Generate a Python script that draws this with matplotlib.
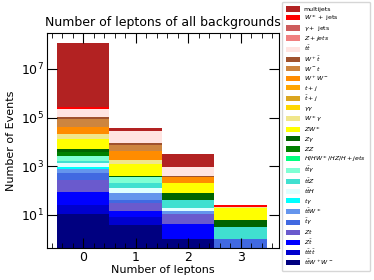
"""
Stacked histogram of the number of leptons for all backgrounds
"""

import numpy as np
import matplotlib
matplotlib.use("Agg")
import matplotlib.pyplot as plt
from matplotlib.ticker import NullLocator

# bin centres (number of leptons)
n_leptons = [0, 1, 2, 3]

# background names, in legend order (top of the stack first)
labels = [
    "multijets", r"$W^\pm +$ jets", r"$\gamma +$ jets", r"$Z + jets$",
    r"$t\bar{t}$", r"$W^+\bar{t}$", r"$W^-t$", r"$W^+W^-$",
    r"$t + j$", r"$\bar{t} + j$", r"$\gamma\gamma$", r"$W^\pm\gamma$",
    r"$ZW^\pm$", r"$Z\gamma$", r"$ZZ$", r"$H/HW^\pm/HZ/H + jets$",
    r"$t\bar{t}\gamma$", r"$t\bar{t}Z$", r"$t\bar{t}H$", r"$t\gamma$",
    r"$t\bar{t}W^\pm$", r"$\bar{t}\gamma$", r"$Zt$", r"$Z\bar{t}$",
    r"$t\bar{t}t\bar{t}$", r"$t\bar{t}W^+W^-$",
]

# events per background, same order as labels
events_0lep = [1.147e8, 3.3e4, 0, 0, 1.29e5, 1.8e4, 4.3e4, 2.1e4,
               0, 0, 0, 8200, 7700, 1150, 1320, 0,
               950, 360, 418, 157, 205, 269, 182, 64, 14, 10.7]
events_1lep = [8200, 0, 0, 0, 19300, 1300, 3110, 2540,
               0, 0, 0, 510, 876, 71, 0, 0,
               145, 75, 45, 0, 38, 11, 15.4, 6.2, 4.1, 4.0]
events_2lep = [2140, 0, 0, 0, 547, 36, 0, 161,
               0, 0, 0, 0, 132, 36, 0, 0,
               0, 22, 4.2, 0, 4.2, 0, 6.4, 3.06, 0, 1.0]
events_3lep = [0, 4.4, 0, 0, 0, 0, 0, 0,
               0, 0, 0, 1.9, 12.9, 2.95, 0, 0,
               0, 2.14, 0, 0, 0, 1.0, 0, 0, 0, 0]

# y tick positions
y_ticks = [1e1, 1e3, 1e5, 1e7]

colors = [
    "firebrick", "red", "indianred", "lightcoral", "mistyrose", "sienna",
    "peru", "darkorange", "orange", "goldenrod", "gold", "khaki", "yellow",
    "darkgreen", "green", "springgreen", "aquamarine", "turquoise",
    "lightcyan", "cyan", "cornflowerblue", "royalblue", "slateblue", "blue",
    "mediumblue", "navy",
]

counts = np.array([events_0lep, events_1lep, events_2lep, events_3lep]).T

fig = plt.figure(figsize=(3.74, 2.8), dpi=100)
ax = fig.add_axes([0.1257, 0.114, 0.62, 0.768])

# stack from the bottom of the list upwards
bottom = np.zeros(len(n_leptons))
handles = []
for i in range(len(labels) - 1, -1, -1):
    h = ax.bar(n_leptons, counts[i], width=1.0, bottom=bottom,
               color=colors[i], label=labels[i], linewidth=0)
    handles.append(h)
    bottom = bottom + counts[i]
handles = handles[::-1]

ax.set_yscale("log")
ax.set_ylim(0.43, 3e8)
ax.set_yticks(y_ticks)
ax.yaxis.set_minor_locator(NullLocator())
ax.set_xlim(-0.69, 3.73)
ax.set_xticks(n_leptons)
ax.set_xticks(np.arange(-0.6, 3.8, 0.2), minor=True)
ax.tick_params(which="both", direction="in", top=True, right=True,
               labelsize=9, pad=2)
ax.tick_params(which="major", length=7)
ax.tick_params(which="minor", length=3.5)

ax.set_title("Number of leptons of all backgrounds", fontsize=9, pad=5)
ax.set_xlabel("Number of leptons", fontsize=8, labelpad=1)
ax.set_ylabel("Number of Events", fontsize=8)

fig.legend(handles, labels, loc="upper left",
           bbox_to_anchor=(0.754, 0.993), fontsize=4.5,
           labelspacing=0.17, handlelength=2.2, handleheight=0.9,
           handletextpad=0.6, borderaxespad=0.0, borderpad=0.7,
           frameon=True)

fig.savefig("out.png", dpi=100)
